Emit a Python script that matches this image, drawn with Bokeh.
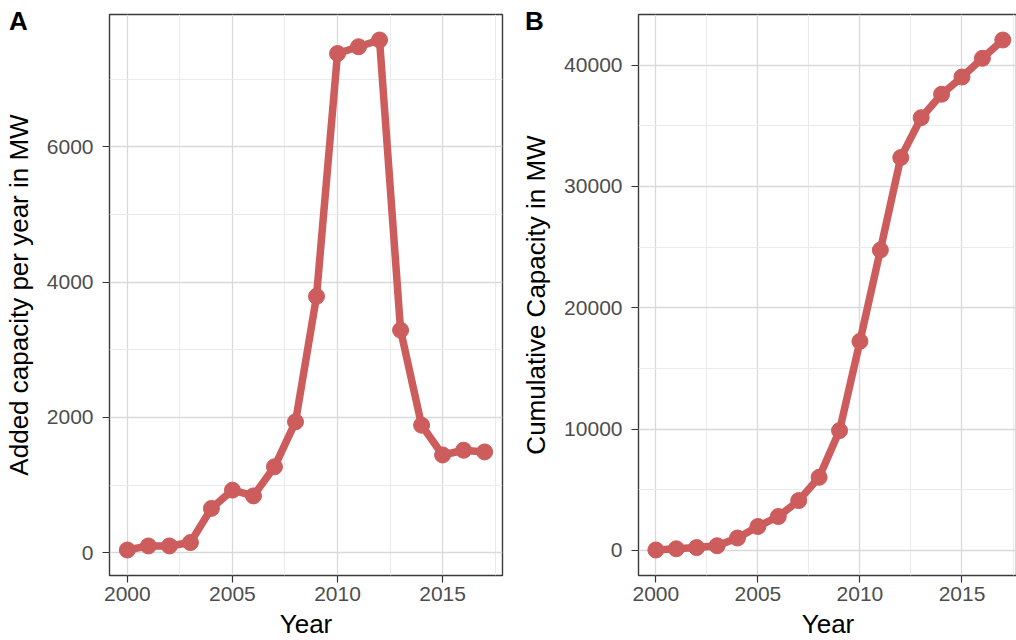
from bokeh.plotting import figure
from bokeh.layouts import row
from bokeh.models import Range1d, FixedTicker, Div
from bokeh.embed import file_html
from bokeh.resources import INLINE

# ---- data ----
years = [2000, 2001, 2002, 2003, 2004, 2005, 2006, 2007, 2008,
         2009, 2010, 2011, 2012, 2013, 2014, 2015, 2016, 2017]
added_mw = [40, 100, 100, 150, 655, 925, 840, 1270, 1935,
            3790, 7380, 7480, 7580, 3290, 1885, 1445, 1515, 1490]
cumulative_mw = [40, 140, 240, 390, 1030, 1975, 2800, 4110, 6030,
                 9880, 17230, 24750, 32370, 35660, 37590, 39010, 40550, 42060]

x_major = [2000, 2005, 2010, 2015]
x_minor = [2002.5, 2007.5, 2012.5, 2017.5]
a_major = [0, 2000, 4000, 6000]
a_minor = [1000, 3000, 5000, 7000]
b_major = [0, 10000, 20000, 30000, 40000]
b_minor = [5000, 15000, 25000, 35000]

panel_labels = ["A", "B"]
x_title = "Year"
y_titles = ["Added capacity per year in MW", "Cumulative Capacity in MW"]

COLOR = "indianred"
FONT = "Liberation Sans"


def padded(vals, frac=0.05):
    lo, hi = min(vals), max(vals)
    pad = (hi - lo) * frac
    return lo - pad, hi + pad


def make_panel(yvals, ymaj, ymin, ytitle, left, fwidth, right, x_end=None):
    x0, x1 = padded(years)
    if x_end is not None:
        x1 = x_end
    y0, y1 = padded(yvals)
    p = figure(frame_width=fwidth, frame_height=561,
               min_border_left=left, min_border_right=right,
               min_border_top=14, min_border_bottom=65,
               x_range=Range1d(x0, x1), y_range=Range1d(y0, y1),
               output_backend="svg", toolbar_location=None)
    p.background_fill_color = "white"
    p.border_fill_color = "white"
    p.outline_line_color = "#3a3a3a"
    p.outline_line_width = 1.4

    p.xaxis.ticker = FixedTicker(ticks=x_major, minor_ticks=x_minor)
    p.yaxis.ticker = FixedTicker(ticks=ymaj, minor_ticks=ymin)
    for ax in (p.xaxis[0], p.yaxis[0]):
        ax.axis_line_color = None
        ax.major_tick_line_color = "#333333"
        ax.major_tick_line_width = 1.2
        ax.major_tick_out = 7
        ax.major_tick_in = 0
        ax.minor_tick_line_color = None
        ax.major_label_text_font = FONT
        ax.major_label_text_font_size = "21px"
        ax.major_label_text_color = "#4D4D4D"
        ax.axis_label_text_font = FONT
        ax.axis_label_text_font_size = "26px"
        ax.axis_label_text_font_style = "normal"
        ax.axis_label_text_color = "#000000"
    p.xaxis.major_label_standoff = 4
    p.xaxis.axis_label_standoff = 5
    p.yaxis.major_label_standoff = 9
    p.yaxis.axis_label_standoff = 10
    p.yaxis.major_label_orientation = "horizontal"
    p.xaxis.axis_label = x_title
    p.yaxis.axis_label = ytitle

    for g in (p.xgrid[0], p.ygrid[0]):
        g.grid_line_color = "#D9D9D9"
        g.grid_line_width = 1.3
        g.minor_grid_line_color = "#EBEBEB"
        g.minor_grid_line_width = 1.1

    p.line(years, yvals, line_width=7.5, color=COLOR, line_join="round")
    p.scatter(years, yvals, size=16, color=COLOR)
    return p


def letter_div(letter, left_px):
    inner = ("<div style=\"margin:0;padding:0;font-family:'Liberation Sans';"
             "font-size:26px;font-weight:bold;line-height:1;color:#000;\">"
             + letter + "</div>")
    return Div(text=inner, width=24, height=28, margin=0,
               styles={"position": "absolute", "left": f"{left_px}px",
                       "top": "8px", "z-index": "10",
                       "margin": "0", "padding": "0"})


pA = make_panel(added_mw, a_major, a_minor, y_titles[0],
                left=108, fwidth=393, right=7)
pB = make_panel(cumulative_mw, b_major, b_minor, y_titles[1],
                left=129, fwidth=379, right=0, x_end=2017.72)

layout = row(pA, pB, letter_div(panel_labels[0], 9), letter_div(panel_labels[1], 525))
open("out.html", "w").write(file_html(layout, INLINE))
